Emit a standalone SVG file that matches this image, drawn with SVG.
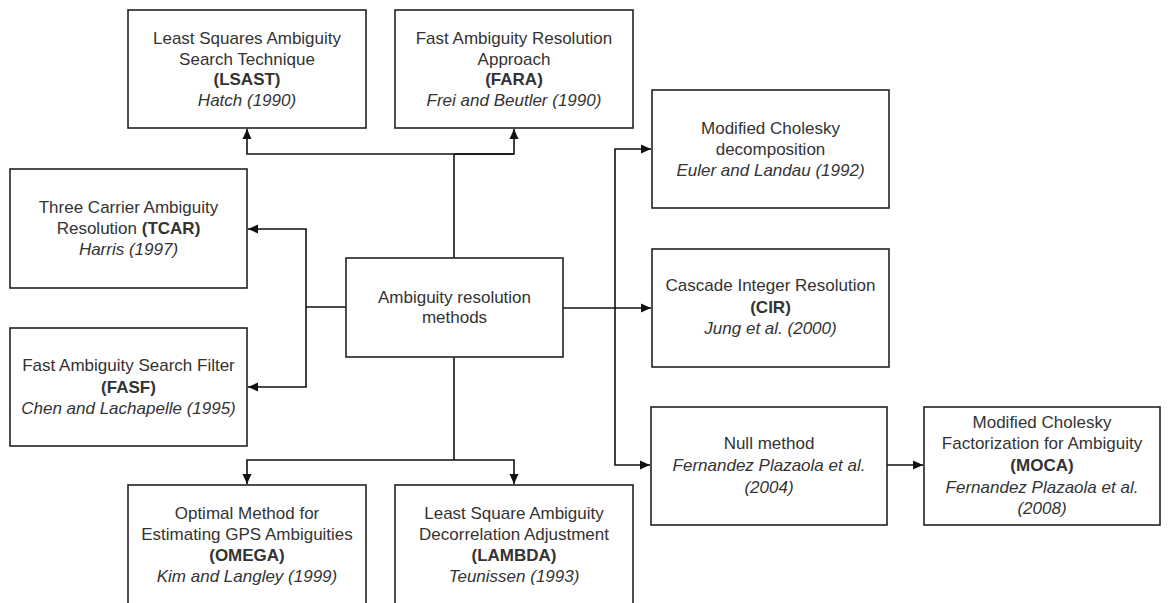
<svg xmlns="http://www.w3.org/2000/svg" width="1168" height="603" viewBox="0 0 1168 603">
<defs>
<marker id="ah" markerWidth="10" markerHeight="10" refX="10" refY="5" orient="auto" markerUnits="userSpaceOnUse">
<path d="M0,0.5 L10,5 L0,9.5 Z" fill="#111"/>
</marker>
<style>
.box{fill:#fff;stroke:#222;stroke-width:1.6}
text{font-family:"Liberation Sans",Arial,sans-serif;font-size:17px;fill:#333;text-anchor:middle}
.b{font-weight:bold}
.i{font-style:italic}
.c{fill:none;stroke:#111;stroke-width:1.6}
</style>
</defs>
<rect width="1168" height="603" fill="#fff"/>
<g id="connectors">
<path class="c" d="M454,258 V154"/>
<path class="c" d="M514,154 H247 V129" marker-end="url(#ah)"/>
<path class="c" d="M454,154 H514 V129" marker-end="url(#ah)"/>
<path class="c" d="M346,307 H306"/>
<path class="c" d="M306,307 V229 H248" marker-end="url(#ah)"/>
<path class="c" d="M306,307 V387 H248" marker-end="url(#ah)"/>
<path class="c" d="M563,308 H651" marker-end="url(#ah)"/>
<path class="c" d="M615,308 V149 H651" marker-end="url(#ah)"/>
<path class="c" d="M615,308 V465 H650" marker-end="url(#ah)"/>
<path class="c" d="M454,357 V460"/>
<path class="c" d="M454,460 H247 V484" marker-end="url(#ah)"/>
<path class="c" d="M454,460 H514 V484" marker-end="url(#ah)"/>
<path class="c" d="M887,465 H923" marker-end="url(#ah)"/>
</g>
<g id="lsast">
<rect class="box" x="128" y="10" width="238" height="118"/>
<text x="247" y="44">Least Squares Ambiguity</text>
<text x="247" y="64.5">Search Technique</text>
<text x="247" y="85" class="b">(LSAST)</text>
<text x="247" y="105.5" class="i">Hatch (1990)</text>
</g>
<g id="fara">
<rect class="box" x="395" y="10" width="238" height="118"/>
<text x="514" y="44">Fast Ambiguity Resolution</text>
<text x="514" y="64.5">Approach</text>
<text x="514" y="85" class="b">(FARA)</text>
<text x="514" y="105.5" class="i">Frei and Beutler (1990)</text>
</g>
<g id="tcar">
<rect class="box" x="10" y="169" width="237" height="119"/>
<text x="128.5" y="213">Three Carrier Ambiguity</text>
<text x="128.5" y="234">Resolution <tspan class="b">(TCAR)</tspan></text>
<text x="128.5" y="255" class="i">Harris (1997)</text>
</g>
<g id="fasf">
<rect class="box" x="10" y="328" width="237" height="118"/>
<text x="128.5" y="371">Fast Ambiguity Search Filter</text>
<text x="128.5" y="393" class="b">(FASF)</text>
<text x="128.5" y="414" class="i">Chen and Lachapelle (1995)</text>
</g>
<g id="center">
<rect class="box" x="346" y="258" width="217" height="99"/>
<text x="454.5" y="303">Ambiguity resolution</text>
<text x="454.5" y="323">methods</text>
</g>
<g id="cholesky">
<rect class="box" x="652" y="90" width="237" height="118"/>
<text x="770.5" y="134">Modified Cholesky</text>
<text x="770.5" y="155">decomposition</text>
<text x="770.5" y="176" class="i">Euler and Landau (1992)</text>
</g>
<g id="cir">
<rect class="box" x="652" y="249" width="237" height="118"/>
<text x="770.5" y="291">Cascade Integer Resolution</text>
<text x="770.5" y="313" class="b">(CIR)</text>
<text x="770.5" y="334" class="i">Jung et al. (2000)</text>
</g>
<g id="null">
<rect class="box" x="651" y="407" width="236" height="118"/>
<text x="769" y="449">Null method</text>
<text x="769" y="471" class="i">Fernandez Plazaola et al.</text>
<text x="769" y="493" class="i">(2004)</text>
</g>
<g id="moca">
<rect class="box" x="924" y="407" width="236" height="118"/>
<text x="1042" y="428">Modified Cholesky</text>
<text x="1042" y="449">Factorization for Ambiguity</text>
<text x="1042" y="471" class="b">(MOCA)</text>
<text x="1042" y="493" class="i">Fernandez Plazaola et al.</text>
<text x="1042" y="514" class="i">(2008)</text>
</g>
<g id="omega">
<rect class="box" x="128" y="485" width="238" height="130"/>
<text x="247" y="519">Optimal Method for</text>
<text x="247" y="539.5">Estimating GPS Ambiguities</text>
<text x="247" y="561" class="b">(OMEGA)</text>
<text x="247" y="581.5" class="i">Kim and Langley (1999)</text>
</g>
<g id="lambda">
<rect class="box" x="395" y="485" width="238" height="130"/>
<text x="514" y="519">Least Square Ambiguity</text>
<text x="514" y="539.5">Decorrelation Adjustment</text>
<text x="514" y="561" class="b">(LAMBDA)</text>
<text x="514" y="581.5" class="i">Teunissen (1993)</text>
</g>
</svg>
